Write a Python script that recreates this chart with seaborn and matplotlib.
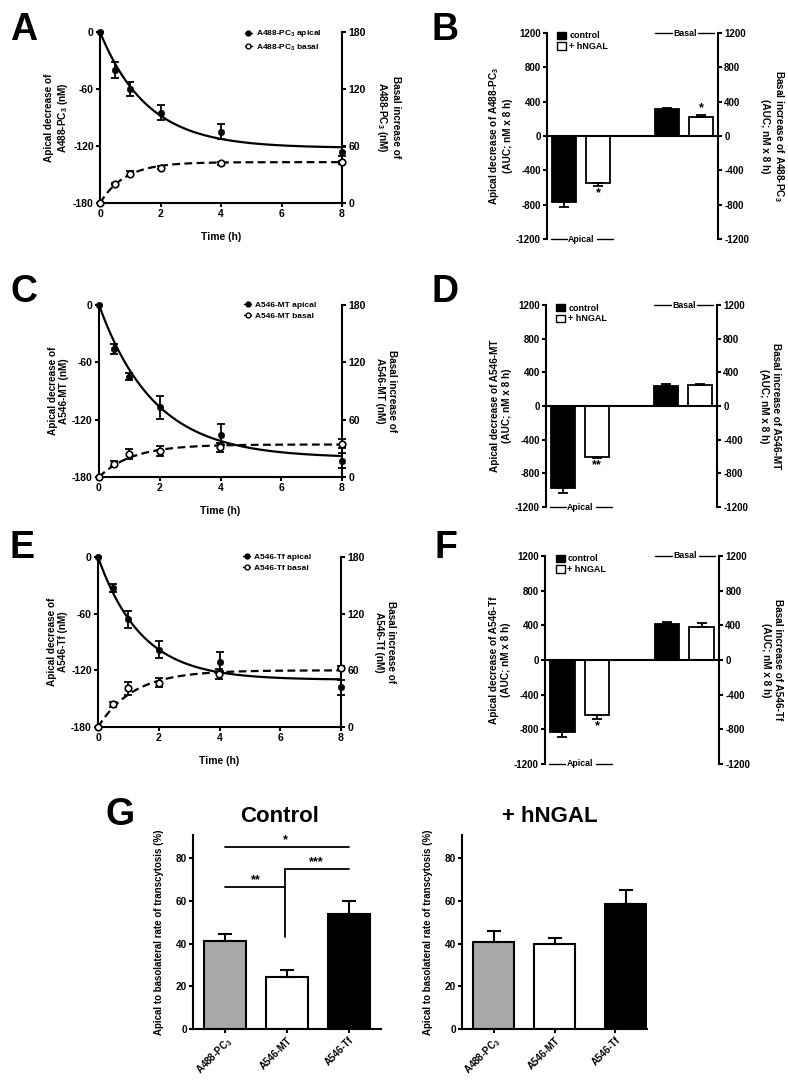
import numpy as np
import pandas as pd
import matplotlib
matplotlib.use("Agg")
import matplotlib.pyplot as plt
import seaborn as sns
from matplotlib.lines import Line2D
from matplotlib.patches import Patch

sns.set_theme(style="ticks")
plt.rcParams["font.family"] = ["Liberation Sans", "DejaVu Sans"]
plt.rcParams["font.weight"] = "bold"
plt.rcParams["axes.labelweight"] = "bold"
plt.rcParams["mathtext.fontset"] = "custom"
plt.rcParams["mathtext.rm"] = "Liberation Sans:bold"
plt.rcParams["mathtext.it"] = "Liberation Sans:bold"
plt.rcParams["mathtext.bf"] = "Liberation Sans:bold"
plt.rcParams["mathtext.default"] = "bf"
plt.rcParams["axes.unicode_minus"] = False
for key in ["text.color", "axes.labelcolor", "xtick.color", "ytick.color",
            "axes.edgecolor"]:
    plt.rcParams[key] = "black"

# ---------------- data ----------------
time_h = [0, 0.5, 1, 2, 4, 8]

pc3_apical = [0, -40, -60, -85, -105, -126]
pc3_apical_sd = [0, 8, 7, 8, 8, 5]
pc3_basal = [0, 20, 31, 37, 42, 43]
pc3_basal_sd = [0, 1.5, 2.5, 1.5, 1.5, 1.5]
pc3_apical_fit = (-122, 0.64)   # plateau (nM), rate (1/h)
pc3_basal_fit = (43, 1.2)

mt_apical = [0, -46, -75, -107, -136, -163]
mt_apical_sd = [0, 5, 4, 12, 11, 8]
mt_basal = [0, 14, 24, 27, 31, 35]
mt_basal_sd = [0, 3, 5, 5, 5, 5]
mt_apical_fit = (-160, 0.55)
mt_basal_fit = (34, 0.9)

tf_apical = [0, -33, -66, -98, -111, -138]
tf_apical_sd = [0, 4, 9, 9, 10, 8]
tf_basal = [0, 24, 41, 47, 56, 63]
tf_basal_sd = [0, 3, 7, 5, 5, 2]
tf_apical_fit = (-130, 0.7)
tf_basal_fit = (60, 0.85)

auc_groups = ["Apical", "Apical", "Basal", "Basal"]
auc_conditions = ["control", "+ hNGAL", "control", "+ hNGAL"]
pc3_auc = [-773, -550, 310, 225]
pc3_auc_sd = [50, 30, 12, 25]
pc3_auc_sig = ["", "*", "", "*"]
mt_auc = [-975, -605, 237, 250]
mt_auc_sd = [60, 12, 30, 12]
mt_auc_sig = ["", "**", "", ""]
tf_auc = [-830, -635, 415, 380]
tf_auc_sd = [60, 45, 25, 45]
tf_auc_sig = ["", "*", "", ""]

probes = ["A488-PC$_3$", "A546-MT", "A546-Tf"]
probe_colors = ["#a9a7a7", "white", "black"]
rate_control = [41.2, 24.5, 53.8]
rate_control_sd = [3.3, 3.1, 6.0]
rate_hngal = [40.9, 39.8, 58.5]
rate_hngal_sd = [5.2, 2.7, 6.5]

# ---------------- figure ----------------
W, H = 788, 1087
fig = plt.figure(figsize=(W / 100, H / 100), dpi=100)


def add_ax(l, t, r, b):
    return fig.add_axes([l / W, 1 - b / H, (r - l) / W, (b - t) / H])


LW = 1.5
TICK = dict(direction="out", length=3, width=LW, labelsize=7, pad=1.5, colors="black")


def time_panel(ax, apical, apical_sd, basal, basal_sd, ap_fit, ba_fit, probe):
    tt = np.linspace(0, 8, 300)
    ap_curve = ap_fit[0] * (1 - np.exp(-ap_fit[1] * tt))
    ba_curve = ba_fit[0] * (1 - np.exp(-ba_fit[1] * tt))

    sns.lineplot(x=tt, y=ap_curve, ax=ax, color="black", lw=1.6)
    ax.errorbar(time_h, apical, yerr=apical_sd, fmt="none", ecolor="black",
                elinewidth=1.3, capsize=3, capthick=1.3, clip_on=False, zorder=4)
    sns.scatterplot(x=time_h, y=apical, ax=ax, color="black", s=22,
                    edgecolor="black", zorder=5, clip_on=False)
    ax.set_xlim(0, 8)
    ax.set_ylim(-180, 0)
    ax.set_xticks([0, 2, 4, 6, 8])
    ax.set_yticks([-180, -120, -60, 0])
    for s in ["top", "right"]:
        ax.spines[s].set_visible(False)
    for s in ["left", "bottom"]:
        ax.spines[s].set_linewidth(LW)
    ax.tick_params(**TICK)
    ax.tick_params(labelsize=7.5)
    ax.set_xlabel("Time (h)", fontsize=7.5, labelpad=9)
    ax.set_ylabel(f"Apical decrease of\n{probe} (nM)", fontsize=7.2, labelpad=2)

    ax2 = ax.twinx()
    sns.lineplot(x=tt, y=ba_curve, ax=ax2, color="black", lw=1.6,
                 linestyle=(0, (3.5, 2)))
    ax2.errorbar(time_h, basal, yerr=basal_sd, fmt="none", ecolor="black",
                 elinewidth=1.3, capsize=3, capthick=1.3, clip_on=False, zorder=4)
    sns.scatterplot(x=time_h, y=basal, ax=ax2, color="white", s=22,
                    edgecolor="black", linewidth=1.2, zorder=5, clip_on=False)
    ax2.set_ylim(0, 180)
    ax2.set_xlim(0, 8)
    ax2.set_yticks([0, 60, 120, 180])
    for s in ["top", "left", "bottom"]:
        ax2.spines[s].set_visible(False)
    ax2.spines["right"].set_linewidth(LW)
    ax2.tick_params(**TICK)
    ax2.tick_params(labelsize=7.5)
    ax2.set_ylabel(f"Basal increase of\n{probe} (nM)", fontsize=7.2,
                   rotation=270, va="bottom", labelpad=7)
    handles = [
        Line2D([0], [0], color="black", lw=1.0, marker="o", markersize=3.5,
               markerfacecolor="black"),
        Line2D([0], [0], color="black", lw=1.0, marker="o", markersize=3.5,
               markerfacecolor="white"),
    ]
    ax2.legend(handles, [f"{probe} apical", f"{probe} basal"], loc="upper left",
               bbox_to_anchor=(0.585, 1.04), frameon=False, fontsize=6,
               handlelength=0.8, handletextpad=0.5, labelspacing=0.35,
               borderaxespad=0)


def auc_panel(ax, vals, sds, sig, probe):
    pos = [0.5, 1.5, 3.5, 4.5]
    df = pd.DataFrame({"pos": pos, "val": vals, "cond": auc_conditions})
    sns.barplot(data=df, x="pos", y="val", hue="cond",
                palette={"control": "black", "+ hNGAL": "white"},
                native_scale=True, dodge=False, width=0.7, edgecolor="black",
                linewidth=1.3, legend=False, errorbar=None, ax=ax)
    lower = [s if v < 0 else 0 for v, s in zip(vals, sds)]
    upper = [s if v > 0 else 0 for v, s in zip(vals, sds)]
    ax.errorbar(pos, vals, yerr=[lower, upper], fmt="none", ecolor="black",
                elinewidth=1.3, capsize=3.5, capthick=1.3, zorder=4)
    ax.axhline(0, color="black", lw=LW, zorder=5)
    for p, v, s, g in zip(pos, vals, sds, sig):
        if g:
            if v < 0:
                ax.text(p, v - s - 85, g, ha="center", va="center", fontsize=9)
            else:
                ax.text(p, v + s + 75, g, ha="center", va="center", fontsize=9)
    ax.set_xlim(0, 5)
    ax.set_ylim(-1200, 1200)
    ticks = [-1200, -800, -400, 0, 400, 800, 1200]
    ax.set_yticks(ticks)
    ax.set_xticks([])
    ax.set_xlabel("")
    for s in ["top", "right", "bottom"]:
        ax.spines[s].set_visible(False)
    ax.spines["left"].set_linewidth(LW)
    ax.tick_params(**TICK)
    ax.set_ylabel(f"Apical decrease of {probe}\n(AUC; nM x 8 h)", fontsize=7.2,
                  labelpad=2)
    # group labels
    ax.plot([0.12, 0.58], [-1200, -1200], color="black", lw=1.0, clip_on=False)
    ax.plot([1.46, 1.93], [-1200, -1200], color="black", lw=1.0, clip_on=False)
    ax.text(1.0, -1200, "Apical", ha="center", va="center", fontsize=6.3)
    ax.plot([3.16, 3.65], [1200, 1200], color="black", lw=1.0, clip_on=False)
    ax.plot([4.42, 4.88], [1200, 1200], color="black", lw=1.0, clip_on=False)
    ax.text(4.03, 1200, "Basal", ha="center", va="center", fontsize=6.3)

    ax2 = ax.twinx()
    ax2.set_ylim(-1200, 1200)
    ax2.set_yticks(ticks)
    for s in ["top", "left", "bottom"]:
        ax2.spines[s].set_visible(False)
    ax2.spines["right"].set_linewidth(LW)
    ax2.tick_params(**TICK)
    ax2.set_ylabel(f"Basal increase of {probe}\n(AUC; nM x 8 h)", fontsize=7.2,
                   rotation=270, va="bottom", labelpad=8)
    handles = [Patch(facecolor="black", edgecolor="black", lw=1.0),
               Patch(facecolor="white", edgecolor="black", lw=1.0)]
    ax2.legend(handles, ["control", "+ hNGAL"], loc="upper left",
               bbox_to_anchor=(0.04, 1.025), frameon=False, fontsize=6.5,
               handlelength=1.0, handleheight=0.9, handletextpad=0.3,
               labelspacing=0.2, borderaxespad=0)


def rate_panel(ax, vals, sds, pos):
    df = pd.DataFrame({"pos": pos, "val": vals, "probe": probes})
    sns.barplot(data=df, x="pos", y="val", hue="probe",
                palette=dict(zip(probes, probe_colors)), native_scale=True,
                dodge=False, width=0.68, edgecolor="black", linewidth=1.5,
                legend=False, errorbar=None, ax=ax)
    ax.errorbar(pos, vals, yerr=[[0] * len(vals), sds], fmt="none",
                ecolor="black", elinewidth=1.5, capsize=5, capthick=1.5, zorder=4)
    ax.set_xlim(-0.52, 2.52)
    ax.set_ylim(0, 90.8)
    ax.set_yticks([0, 20, 40, 60, 80])
    ax.set_xticks([0, 1, 2])
    ax.set_xticklabels(probes, rotation=45, ha="right", va="top",
                       rotation_mode="anchor", fontsize=7.5)
    ax.set_xlabel("")
    for s in ["top", "right"]:
        ax.spines[s].set_visible(False)
    for s in ["left", "bottom"]:
        ax.spines[s].set_linewidth(LW)
    ax.tick_params(**TICK)
    ax.tick_params(axis="y", labelsize=7.2)
    ax.set_ylabel("Apical to basolateral rate of transcytosis (%)",
                  fontsize=7, labelpad=8)


axA = add_ax(100, 32, 342, 203)
time_panel(axA, pc3_apical, pc3_apical_sd, pc3_basal, pc3_basal_sd,
           pc3_apical_fit, pc3_basal_fit, "A488-PC$_3$")
axC = add_ax(99, 305, 342, 477)
time_panel(axC, mt_apical, mt_apical_sd, mt_basal, mt_basal_sd,
           mt_apical_fit, mt_basal_fit, "A546-MT")
axE = add_ax(98, 557, 341, 727)
time_panel(axE, tf_apical, tf_apical_sd, tf_basal, tf_basal_sd,
           tf_apical_fit, tf_basal_fit, "A546-Tf")

axB = add_ax(547, 33, 718, 239)
auc_panel(axB, pc3_auc, pc3_auc_sd, pc3_auc_sig, "A488-PC$_3$")
axD = add_ax(546, 305, 717, 507)
auc_panel(axD, mt_auc, mt_auc_sd, mt_auc_sig, "A546-MT")
axF = add_ax(545, 556, 719, 764)
auc_panel(axF, tf_auc, tf_auc_sd, tf_auc_sig, "A546-Tf")

axG1 = add_ax(193, 835, 381, 1029)
rate_panel(axG1, rate_control, rate_control_sd, [0, 1, 2])
axG2 = add_ax(462, 835, 647, 1029)
rate_panel(axG2, rate_hngal, rate_hngal_sd, [0, 1, 2.17])

# significance brackets (Control)
k = dict(color="black", lw=1.3, clip_on=False)
axG1.plot([0, 2], [85.1, 85.1], **k)
axG1.plot([0, 0.97], [66.4, 66.4], **k)
axG1.plot([0.97, 0.97], [43, 75], **k)
axG1.plot([0.97, 2], [75, 75], **k)
axG1.text(0.97, 88.5, "*", ha="center", va="center", fontsize=9)
axG1.text(0.5, 69.8, "**", ha="center", va="center", fontsize=9)
axG1.text(1.48, 78.3, "***", ha="center", va="center", fontsize=9)

fig.text(280 / W, 1 - 816 / H, "Control", ha="center", va="center",
         fontsize=16, weight="bold")
fig.text(550 / W, 1 - 816 / H, "+ hNGAL", ha="center", va="center",
         fontsize=16, weight="bold")

letters = [("A", 10, 40), ("B", 432, 40), ("C", 10, 302), ("D", 432, 302),
           ("E", 10, 558), ("F", 435, 558), ("G", 106, 825)]
for L, x, y in letters:
    fig.text(x / W, 1 - y / H, L, ha="left", va="baseline", fontsize=27,
             weight="bold")

fig.savefig("out.png", dpi=100)
